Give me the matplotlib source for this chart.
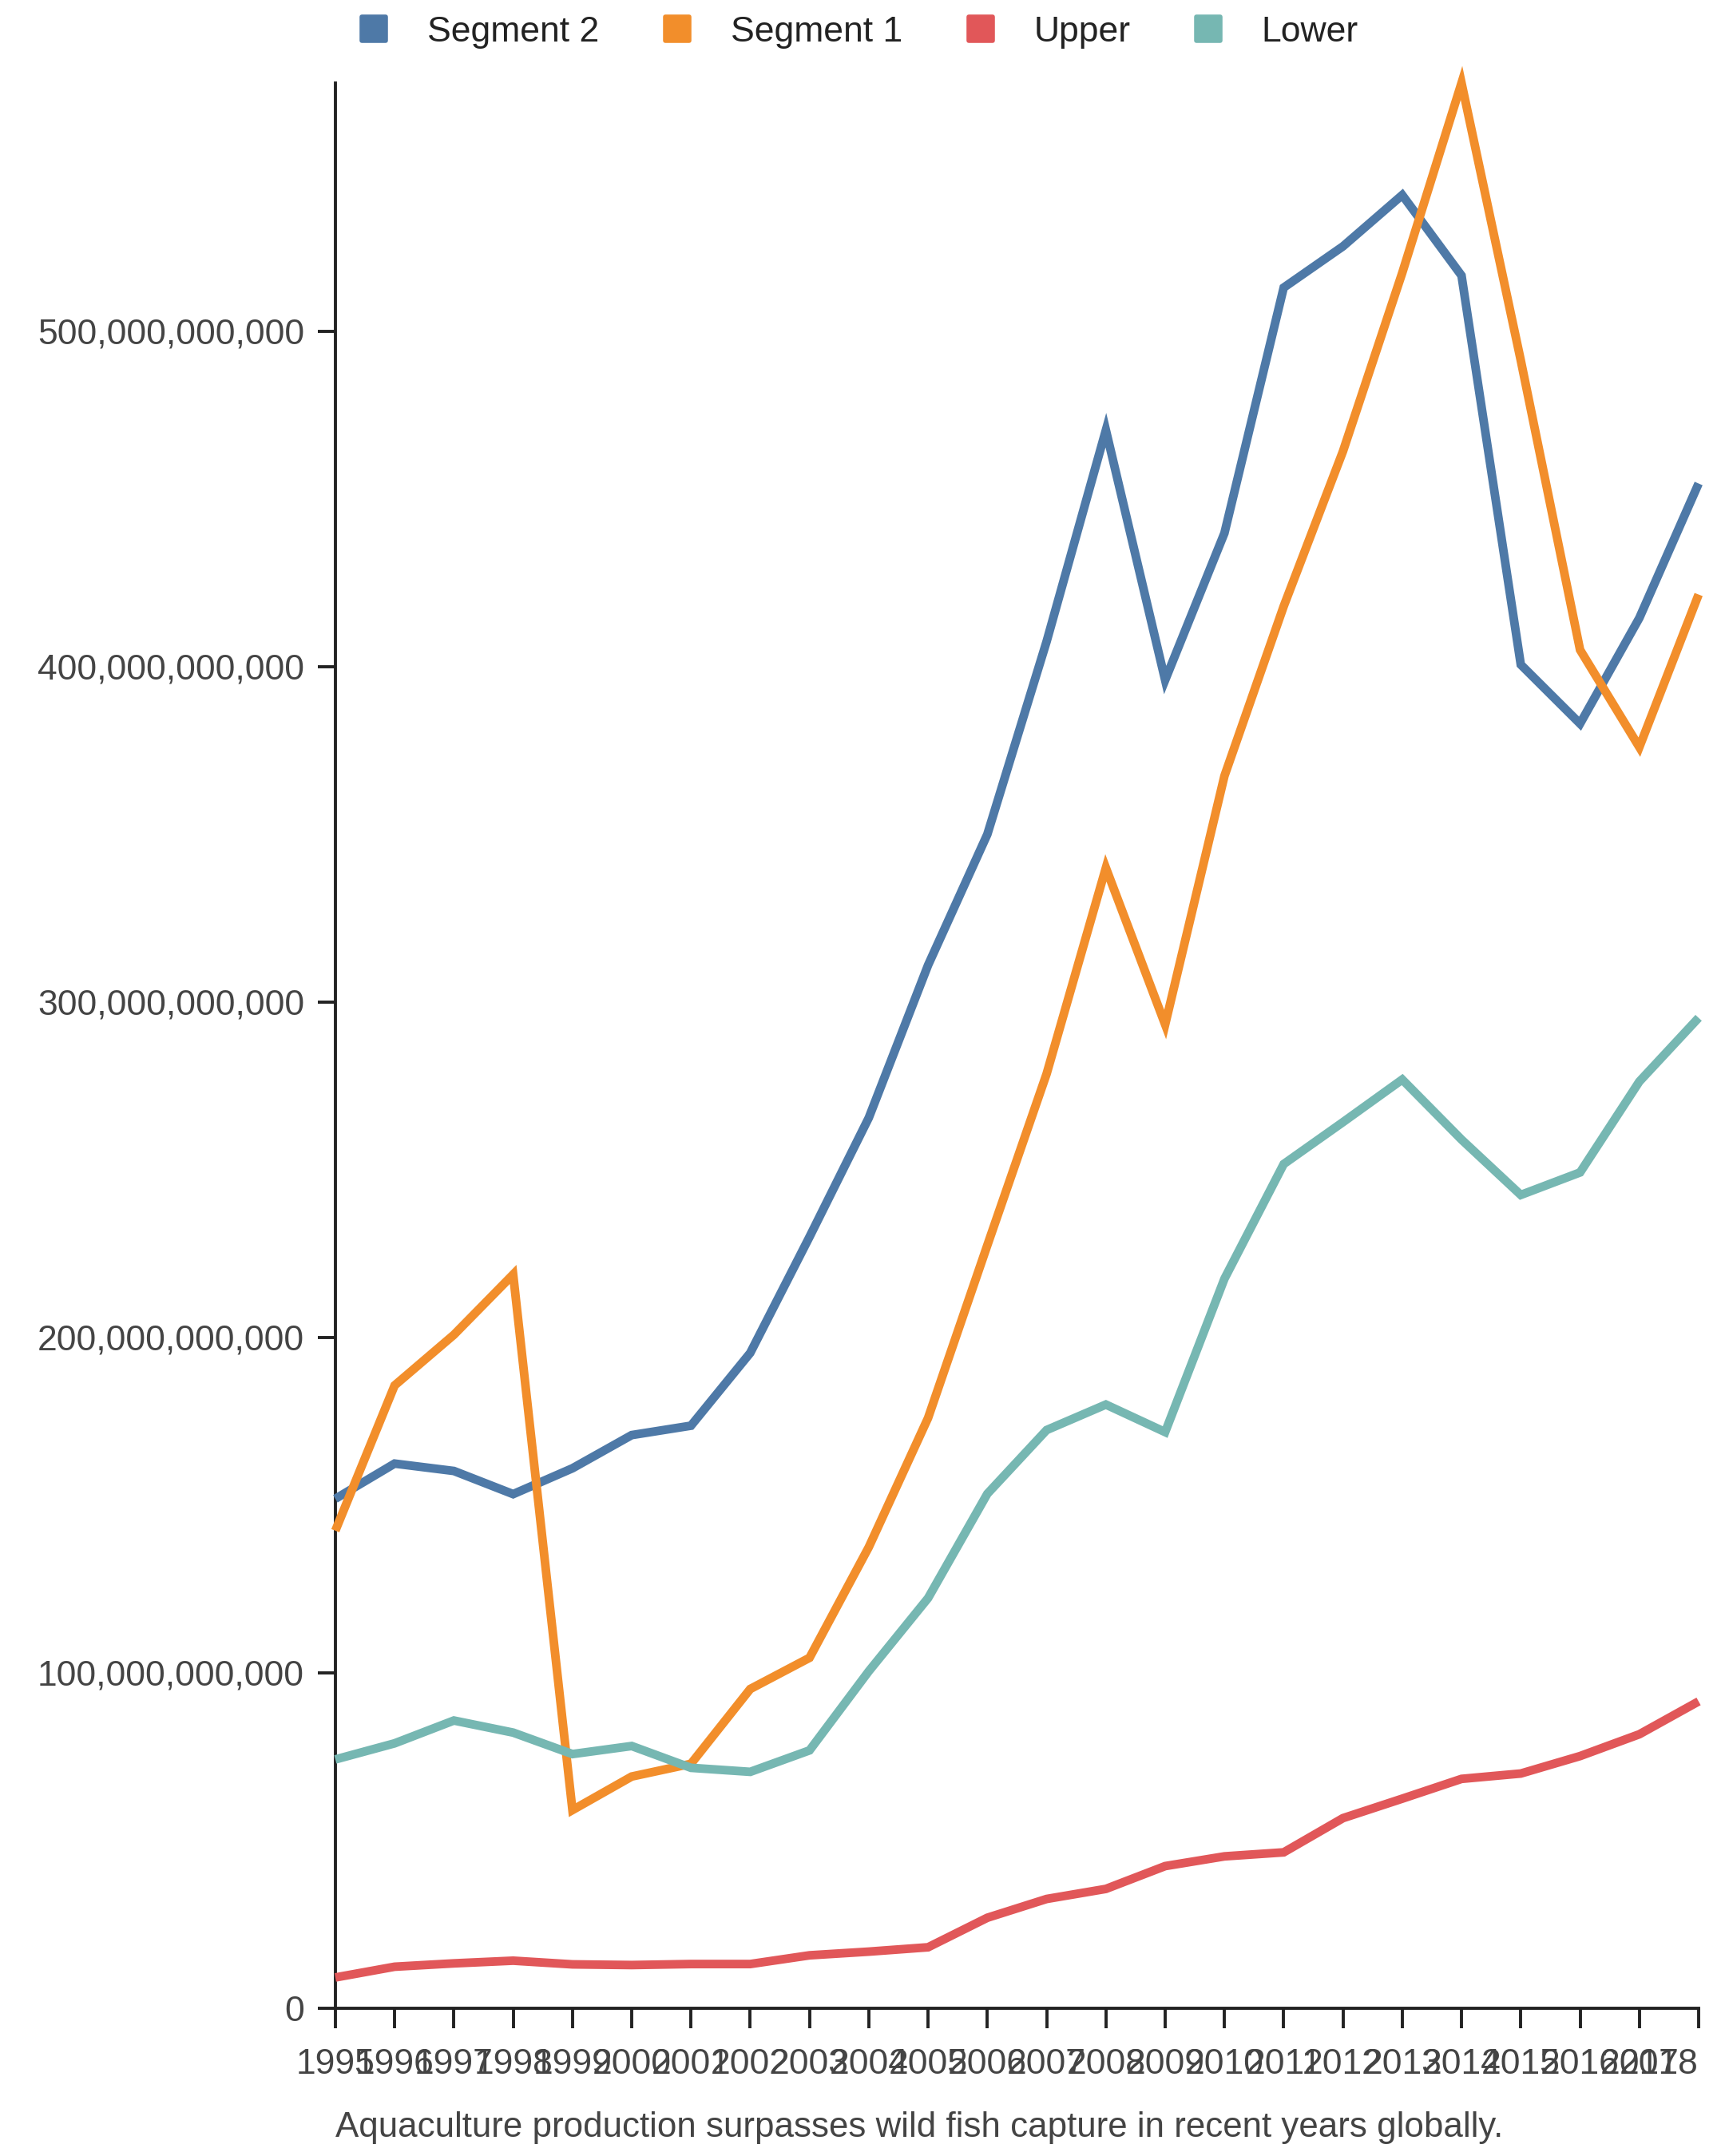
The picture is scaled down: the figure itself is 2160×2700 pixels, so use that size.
import matplotlib
matplotlib.use('Agg')
import matplotlib.pyplot as plt
from matplotlib.lines import Line2D
from matplotlib.markers import MarkerStyle
from matplotlib.ticker import FuncFormatter

plt.rcParams['font.family'] = ['Liberation Sans', 'DejaVu Sans']

# values in billions
years = list(range(1995, 2019))
segment_2 = [151.9, 162.4, 160.2, 153.3, 161.0, 170.9, 173.7, 195.4, 230.0, 265.5,
             311.0, 350.0, 407.5, 470.5, 396.0, 439.8, 513.0, 525.3, 540.6, 516.6,
             400.6, 383.0, 414.5, 454.6]
segment_1 = [142.4, 185.7, 200.8, 218.8, 59.1, 69.1, 72.9, 95.2, 104.5, 137.5,
             176.0, 227.5, 278.6, 340.0, 293.3, 367.4, 418.0, 464.2, 517.4, 574.0,
             491.3, 405.0, 376.0, 421.5]
upper = [9.2, 12.4, 13.4, 14.2, 13.1, 12.9, 13.2, 13.2, 15.8, 16.9,
         18.2, 27.0, 32.6, 35.6, 42.4, 45.3, 46.5, 56.7, 62.5, 68.4,
         70.0, 75.2, 81.7, 91.5]
lower = [74.2, 79.0, 85.8, 82.2, 75.8, 78.2, 71.7, 70.5, 76.9, 100.5,
         122.3, 153.4, 172.4, 180.0, 171.8, 217.5, 251.7, 264.2, 276.9, 259.0,
         242.5, 249.2, 276.3, 295.3]

series_names = ['Segment 2', 'Segment 1', 'Upper', 'Lower']
series_values = [segment_2, segment_1, upper, lower]
colors = ['#4e79a7', '#f28e2b', '#e15759', '#76b7b2']
caption = 'Aquaculture production surpasses wild fish capture in recent years globally.'

fig = plt.figure(figsize=(10.8, 13.5), dpi=200)
ax = fig.add_axes([0.1944, 0.0685, 0.7903, 0.893])

for name, vals, c in zip(series_names, series_values, colors):
    ax.plot(years, [v * 1e9 for v in vals], color=c, lw=3.9, label=name,
            solid_joinstyle='miter', solid_capstyle='butt', clip_on=False, zorder=3)

ymax = max(max(v) for v in series_values) * 1e9
ax.set_xlim(years[0], years[-1])
ax.set_ylim(0, ymax)

ax.set_xticks(years)
ax.set_xticklabels([str(y) for y in years])
ax.get_xticklabels()[-1].set_horizontalalignment('right')  # keep last year inside
ax.set_yticks([i * 1e11 for i in range(6)])
ax.yaxis.set_major_formatter(FuncFormatter(lambda v, p: f'{v:,.0f}'))

for s in ['top', 'right']:
    ax.spines[s].set_visible(False)
for s in ['left', 'bottom']:
    ax.spines[s].set_linewidth(1.4)
    ax.spines[s].set_color('#222222')

ax.tick_params(axis='both', colors='#222222', width=1.4, labelsize=16, labelcolor='#444444')
ax.tick_params(axis='x', length=9, pad=9)
ax.tick_params(axis='y', length=8, pad=6)

# legend on top
handles = [Line2D([], [], linestyle='none', marker=MarkerStyle('s', joinstyle='round'),
                  markersize=11, markerfacecolor=c, markeredgecolor=c, markeredgewidth=2)
           for c in colors]
fig.legend(handles, series_names, loc='center', bbox_to_anchor=(0.497, 0.985), ncol=4,
           frameon=False, fontsize=16, handletextpad=1.0, columnspacing=1.7,
           handlelength=1.0, labelcolor='#222222')

fig.text(0.1944, 0.013, caption, fontsize=15.8, color='#444444', ha='left', va='center')

fig.savefig('out.png', dpi=200)
